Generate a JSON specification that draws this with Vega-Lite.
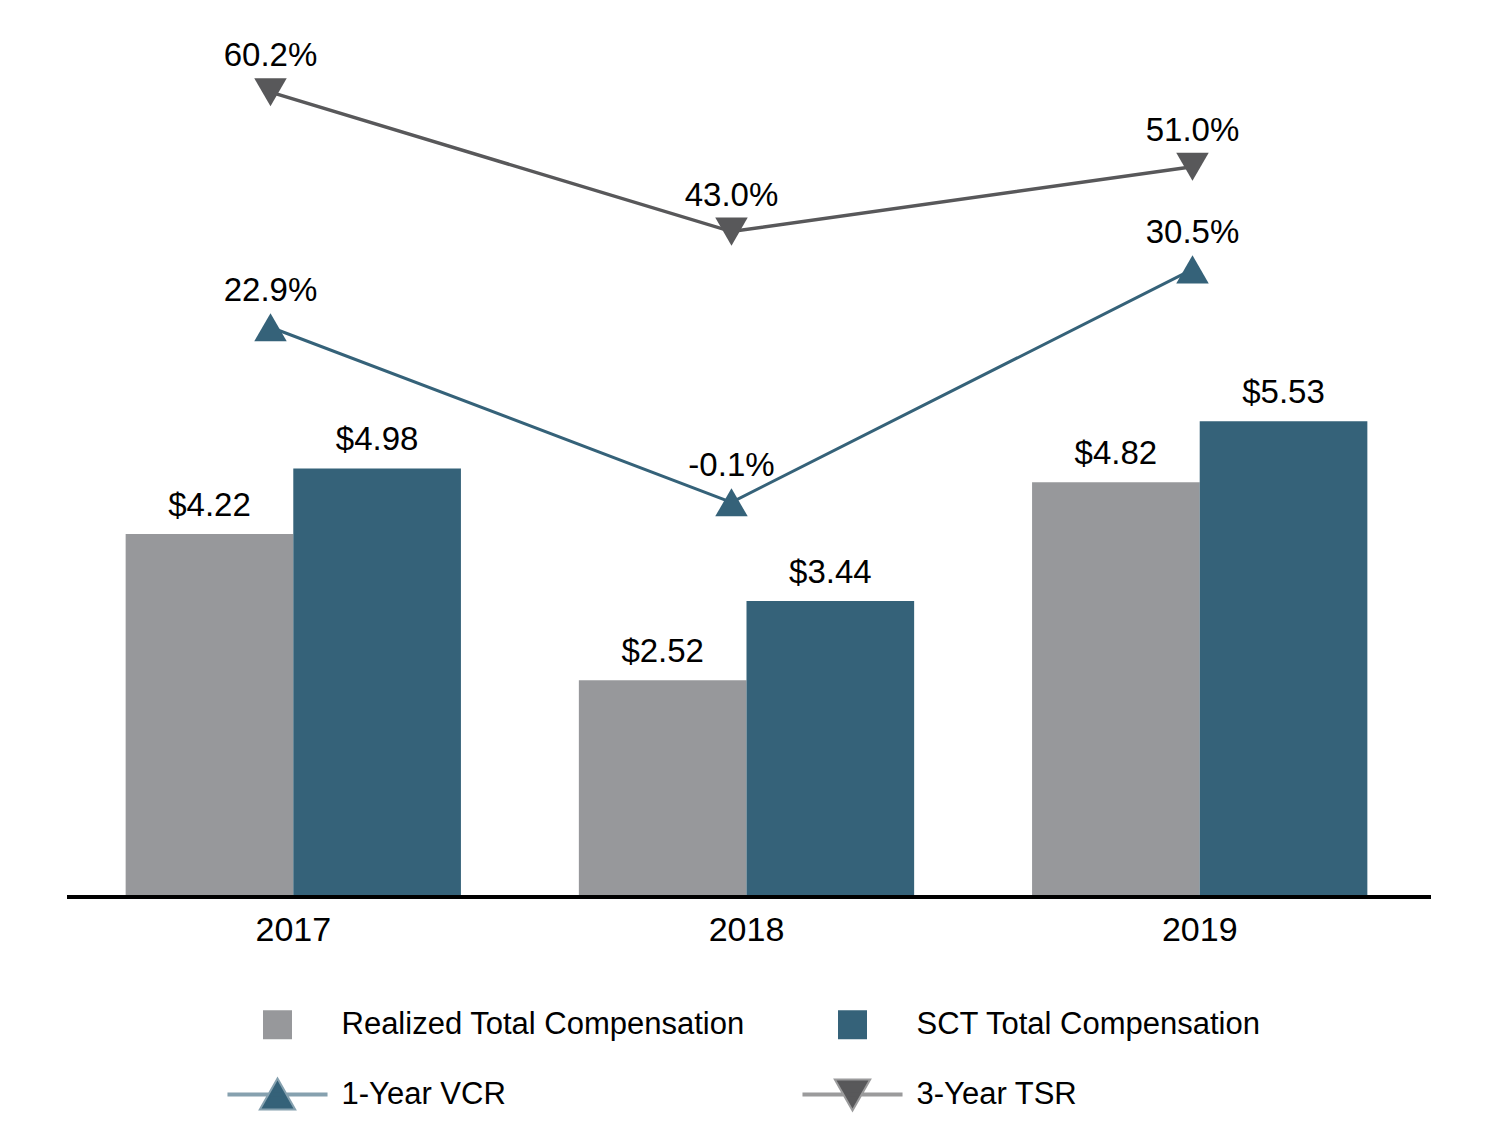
{
  "$schema": "https://vega.github.io/schema/vega-lite/v6.json",
  "width": 1364,
  "height": 877,
  "autosize": {"type": "none"},
  "padding": {"left": 67, "top": 20, "right": 70, "bottom": 250},
  "config": {
    "view": {"stroke": null},
    "font": "Liberation Sans",
    "text": {"font": "Liberation Sans", "color": "black"}
  },
  "datasets": {
    "comp": [
      {"year": "2017", "series": "Realized Total Compensation", "value": 4.22, "label": "$4.22"},
      {"year": "2017", "series": "SCT Total Compensation", "value": 4.98, "label": "$4.98"},
      {"year": "2018", "series": "Realized Total Compensation", "value": 2.52, "label": "$2.52"},
      {"year": "2018", "series": "SCT Total Compensation", "value": 3.44, "label": "$3.44"},
      {"year": "2019", "series": "Realized Total Compensation", "value": 4.82, "label": "$4.82"},
      {"year": "2019", "series": "SCT Total Compensation", "value": 5.53, "label": "$5.53"}
    ],
    "perf": [
      {"year": 2017, "series": "1-Year VCR", "value": 22.9, "label": "22.9%"},
      {"year": 2018, "series": "1-Year VCR", "value": -0.1, "label": "-0.1%"},
      {"year": 2019, "series": "1-Year VCR", "value": 30.5, "label": "30.5%"},
      {"year": 2017, "series": "3-Year TSR", "value": 60.2, "label": "60.2%"},
      {"year": 2018, "series": "3-Year TSR", "value": 43.0, "label": "43.0%"},
      {"year": 2019, "series": "3-Year TSR", "value": 51.0, "label": "51.0%"}
    ]
  },
  "layer": [
    {
      "data": {"name": "comp"},
      "layer": [
        {
          "mark": {"type": "bar"},
          "encoding": {
            "x": {
              "field": "year",
              "type": "nominal",
              "scale": {"range": [0, 1359], "paddingInner": 0.2602, "paddingOuter": 0.1294},
              "axis": {
                "title": null,
                "domain": false,
                "ticks": false,
                "labelAngle": 0,
                "labelFontSize": 34,
                "labelFont": "Liberation Sans",
                "labelColor": "black",
                "labelPadding": 16
              }
            },
            "xOffset": {"field": "series", "type": "nominal", "sort": ["Realized Total Compensation", "SCT Total Compensation"]},
            "y": {"field": "value", "type": "quantitative", "scale": {"domain": [0, 10.192], "nice": false, "zero": false}, "axis": null},
            "color": {
              "field": "series",
              "type": "nominal",
              "scale": {
                "domain": ["Realized Total Compensation", "SCT Total Compensation", "1-Year VCR", "3-Year TSR"],
                "range": ["#97989b", "#356279", "#356279", "#58585a"]
              },
              "legend": {
                "orient": "none",
                "legendX": 195,
                "legendY": 989,
                "direction": "horizontal",
                "columns": 2,
                "title": null,
                "symbolSize": 841,
                "labelFontSize": 31,
                "labelFont": "Liberation Sans",
                "labelColor": "black",
                "labelLimit": 1000,
                "labelOffset": 48.5,
                "columnPadding": 49,
                "rowPadding": 32,
                "encode": {
                  "symbols": {
                    "update": {
                      "shape": {"signal": "datum.value === '1-Year VCR' ? 'M-3.45,0H3.45M0,-0.97L1.1,0.97L-1.1,0.97Z' : datum.value === '3-Year TSR' ? 'M-3.45,0H3.45M0,0.97L1.1,-0.97L-1.1,-0.97Z' : 'square'"},
                      "fill": {"scale": "color", "field": "value"},
                      "stroke": {"scale": "color", "field": "value"},
                      "strokeWidth": {"signal": "indexof(['1-Year VCR', '3-Year TSR'], datum.value) >= 0 ? 4 : 0"},
                      "strokeOpacity": {"value": 0.6},
                      "fillOpacity": {"value": 1},
                      "opacity": {"value": 1}
                    }
                  }
                }
              }
            }
          }
        },
        {
          "mark": {"type": "rule", "color": "black", "strokeWidth": 4},
          "encoding": {"y": {"datum": 0, "type": "quantitative"}}
        },
        {
          "mark": {"type": "text", "fontSize": 33, "baseline": "alphabetic", "dy": -18},
          "encoding": {
            "x": {"field": "year", "type": "nominal"},
            "xOffset": {"field": "series", "type": "nominal", "sort": ["Realized Total Compensation", "SCT Total Compensation"]},
            "y": {"field": "value", "type": "quantitative"},
            "text": {"field": "label"}
          }
        }
      ]
    },
    {
      "data": {"name": "perf"},
      "transform": [{"filter": "datum.series === '1-Year VCR'"}],
      "encoding": {
        "x": {"field": "year", "type": "quantitative", "scale": {"domain": [2016.5586, 2019.5174], "nice": false, "zero": false}, "axis": null},
        "y": {"field": "value", "type": "quantitative", "scale": {"domain": [-51.96, 63.27], "nice": false, "zero": false}, "axis": null}
      },
      "layer": [
        {
          "mark": {"type": "line", "strokeWidth": 3},
          "encoding": {"color": {"field": "series", "type": "nominal"}}
        },
        {
          "mark": {"type": "point", "shape": "triangle-up", "filled": true, "size": 1056, "opacity": 1},
          "encoding": {"color": {"field": "series", "type": "nominal"}}
        },
        {
          "mark": {"type": "text", "fontSize": 33, "baseline": "alphabetic", "dy": -26},
          "encoding": {"text": {"field": "label"}}
        }
      ]
    },
    {
      "data": {"name": "perf"},
      "transform": [{"filter": "datum.series === '3-Year TSR'"}],
      "encoding": {
        "x": {"field": "year", "type": "quantitative", "scale": {"domain": [2016.5586, 2019.5174], "nice": false, "zero": false}, "axis": null},
        "y": {"field": "value", "type": "quantitative", "scale": {"domain": [-39.12, 69.11], "nice": false, "zero": false}, "axis": null}
      },
      "layer": [
        {
          "mark": {"type": "line", "strokeWidth": 3.5},
          "encoding": {"color": {"field": "series", "type": "nominal"}}
        },
        {
          "mark": {"type": "point", "shape": "triangle-down", "filled": true, "size": 1056, "opacity": 1},
          "encoding": {"color": {"field": "series", "type": "nominal"}}
        },
        {
          "mark": {"type": "text", "fontSize": 33, "baseline": "alphabetic", "dy": -26},
          "encoding": {"text": {"field": "label"}}
        }
      ]
    }
  ],
  "resolve": {"scale": {"x": "independent", "y": "independent"}}
}
